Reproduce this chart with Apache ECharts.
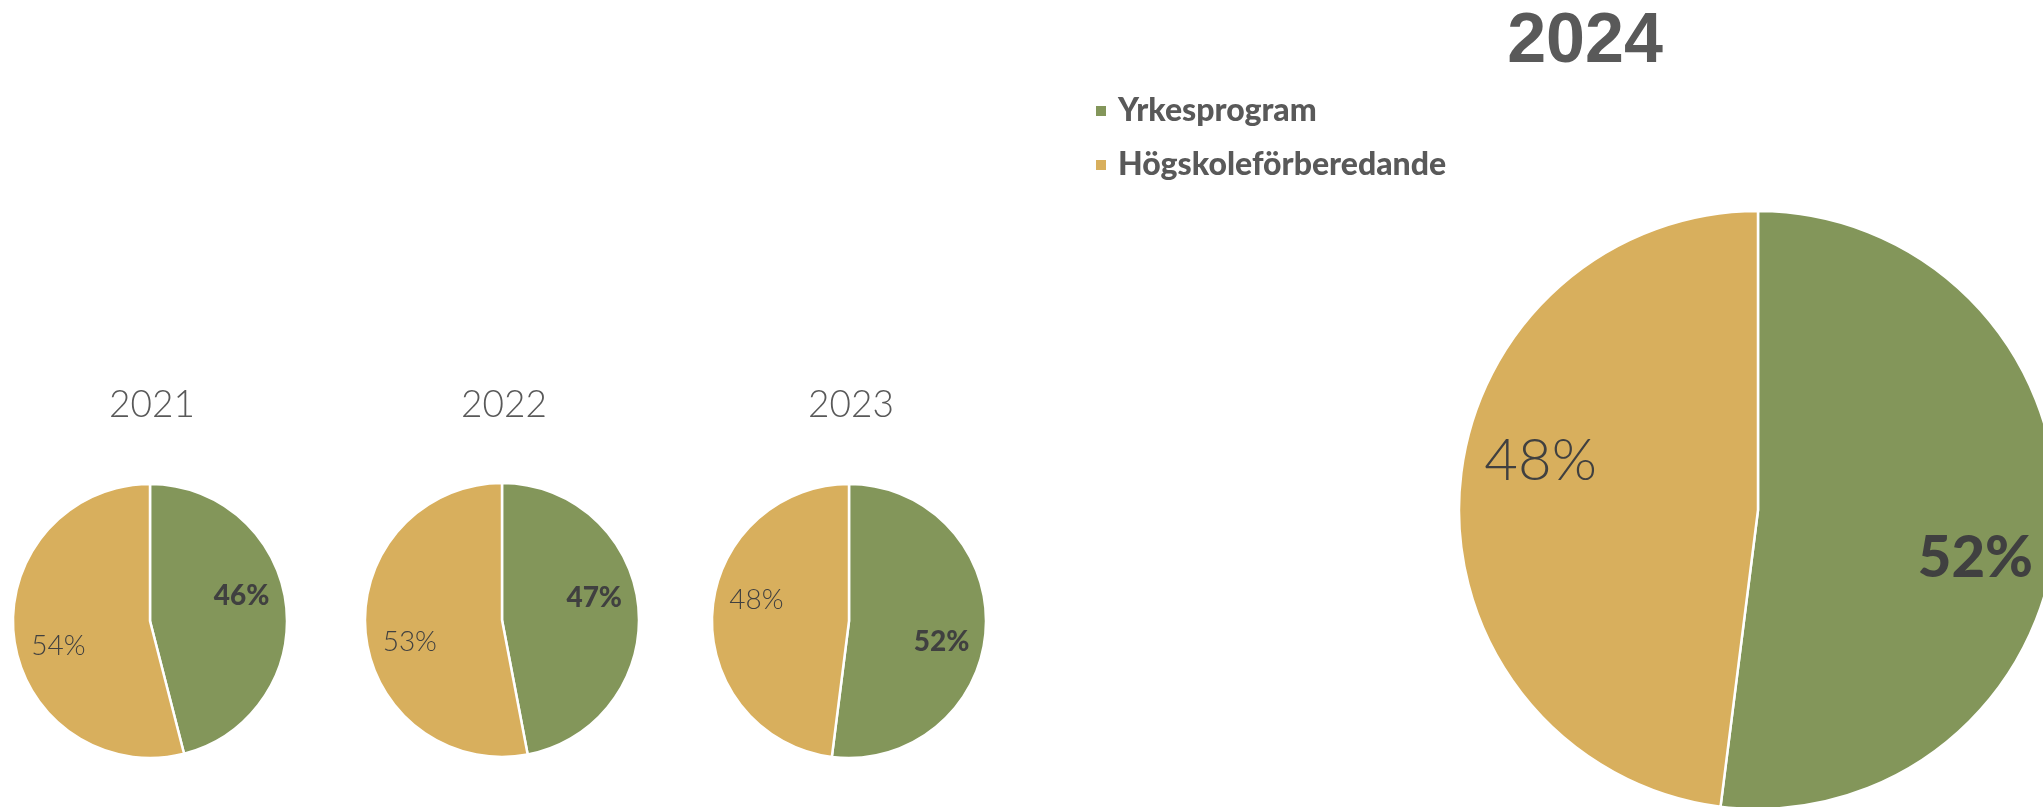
<!DOCTYPE html>
<html>
<head>
<meta charset="utf-8">
<script src="https://cdn.jsdelivr.net/npm/echarts@6/dist/echarts.min.js"></script>
<style>
html,body{margin:0;padding:0;background:#fff;}
#chart{width:2043px;height:807px;}
</style>
</head>
<body>
<div id="chart"></div>
<script>
// ---- data ----
const years = ['2021', '2022', '2023', '2024'];
const categories = ['Yrkesprogram', 'Högskoleförberedande'];
const yrkesprogram = [46, 47, 52, 52];
const hogskoleforberedande = [54, 53, 48, 48];

// ---- layout / style ----
const colors = ['#83965A', '#D8AF5D'];
const layout = [
  { cx: 150, cy: 621, r: 137, font: 28, labelRatio: 0.67, labelShift: 8 },
  { cx: 502, cy: 620, r: 137, font: 28, labelRatio: 0.67, labelShift: 8 },
  { cx: 849, cy: 621, r: 137, font: 28, labelRatio: 0.67, labelShift: -9 },
  { cx: 1758, cy: 510, r: 299, font: 58, labelRatio: 0.735, labelShift: -9 }
];

const chart = echarts.init(document.getElementById('chart'), null, { renderer: 'canvas' });

const series = [];
const titles = [];
years.forEach((yr, i) => {
  const L = layout[i];
  const vals = [yrkesprogram[i], hogskoleforberedande[i]];
  series.push({
    type: 'pie',
    name: yr,
    center: [L.cx, L.cy],
    radius: [0, L.r],
    startAngle: 90,
    clockwise: true,
    silent: true,
    animation: false,
    label: { show: false },
    labelLine: { show: false },
    itemStyle: { borderColor: '#ffffff', borderWidth: 2.5 },
    data: categories.map((c, k) => ({ name: c, value: vals[k], itemStyle: { color: colors[k] } }))
  });
  // transparent overlay to place labels inside the slices
  series.push({
    type: 'pie',
    name: yr + '-labels',
    center: [L.cx, L.cy],
    radius: [0, L.r * L.labelRatio * 2],
    startAngle: 90 + L.labelShift,
    clockwise: true,
    silent: true,
    animation: false,
    z: 5,
    labelLine: { show: false },
    itemStyle: { color: 'rgba(0,0,0,0)', borderWidth: 0 },
    emphasis: { disabled: true },
    data: categories.map((c, k) => ({
      name: c,
      value: vals[k],
      itemStyle: { color: 'rgba(0,0,0,0)' },
      label: {
        show: true,
        position: 'inside',
        formatter: '{c}%',
        color: '#404040',
        fontFamily: 'Lato',
        fontSize: L.font,
        fontWeight: k === 0 ? 900 : 300
      }
    }))
  });
  if (i < 3) {
    titles.push({
      text: yr,
      left: L.cx - 3,
      textAlign: 'center',
      top: 382,
      textStyle: { fontFamily: 'Lato', fontWeight: 300, fontSize: 37, color: '#595959' }
    });
  } else {
    titles.push({
      text: yr,
      left: 1580,
      textAlign: 'center',
      top: 3,
      textStyle: { fontFamily: 'Liberation Sans', fontWeight: 'bold', fontSize: 70, color: '#595959' }
    });
  }
});

chart.setOption({
  backgroundColor: '#ffffff',
  animation: false,
  title: titles,
  legend: {
    orient: 'vertical',
    left: 1094,
    top: 95,
    padding: 0,
    itemWidth: 12,
    itemHeight: 12,
    itemGap: 22,
    icon: 'rect',
    selectedMode: false,
    textStyle: { fontFamily: 'Lato', fontWeight: 900, fontSize: 32, color: '#595959', lineHeight: 32, padding: [0, 0, 0, 6] },
    data: categories.map((c, k) => ({ name: c, itemStyle: { color: colors[k] } }))
  },
  series: series
});
</script>
</body>
</html>
